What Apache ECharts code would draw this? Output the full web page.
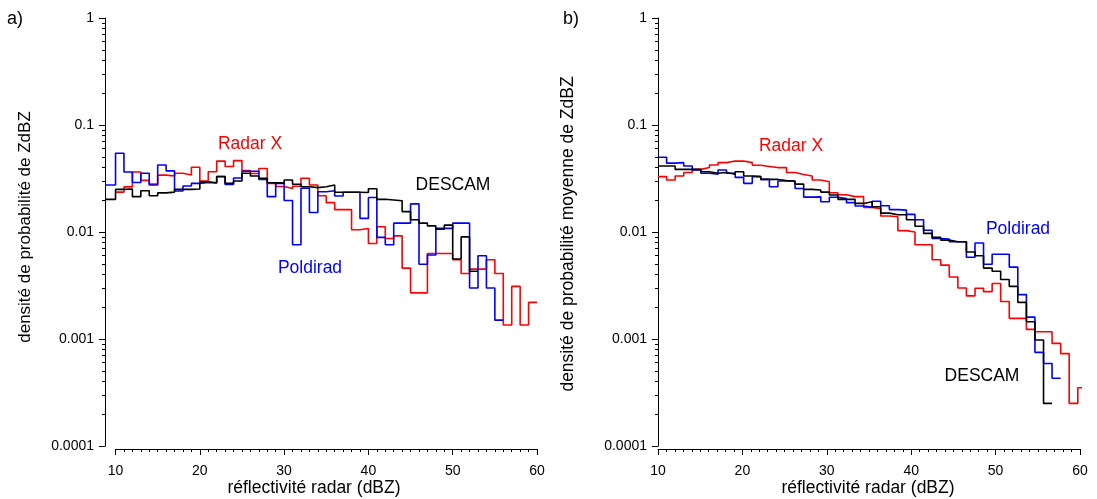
<!DOCTYPE html>
<html><head><meta charset="utf-8">
<script src="https://cdn.jsdelivr.net/npm/echarts@6/dist/echarts.min.js"></script>
<style>html,body{margin:0;padding:0;background:#fff}#c{width:1097px;height:499px}</style>
</head><body><div id="c"></div>
<script>
// ---- Panel a) : bin edges (dBZ) and probability densities per bin ----
const leftEdges = [8.75,10,11,12,13,14,15,16,17,18,19,20,21,22,23,24,25,26,27,28,29,30,31,32,33,34,35,36,37,38,39,40,41,42,43,44,45,46,47,48,49,50,51,52,53,54,55,56,57,58,59,60];
const descamA = [0.0202,0.025,0.0252,0.0214,0.0243,0.0218,0.0232,0.0236,0.025,0.025,0.0252,0.0294,0.0289,0.033,0.0285,0.030,0.0354,0.0334,0.0318,0.0289,0.0286,0.0306,0.0279,0.0265,0.026,0.0265,0.0275,0.0235,0.0235,0.0235,0.0234,0.0254,0.0202,0.0199,0.0196,0.0155,0.013,0.0121,0.0114,0.0106,0.0116,0.0056,0.009,0.0043,null,null,null,null,null,null,null];
const poldiradA = [0.0275,0.0544,0.0364,0.029,0.0354,0.0275,0.0423,0.0373,0.0242,0.0269,0.0285,0.029,0.0287,0.0329,0.0278,0.032,0.037,0.037,0.031,0.0214,0.0285,0.0197,0.0076,0.0256,0.0152,0.0238,0.0243,0.0217,0.0235,0.0235,0.0134,0.021,0.0089,0.0076,0.0121,0.0121,0.0183,0.005,0.0061,0.0108,0.0108,0.0121,0.0121,0.003,0.006,0.003,0.0015,null,null,null,null];
const radarXA = [null,0.0236,0.0264,0.0364,0.0304,0.028,0.034,0.0334,0.0354,0.0341,0.0403,0.030,0.0366,0.046,0.041,0.0465,0.0375,0.0352,0.0392,0.0285,0.0266,0.0255,0.0268,0.0318,0.0275,0.0218,0.0188,0.0162,0.0162,0.0105,0.0108,0.0078,0.0112,0.0087,0.0092,0.0046,0.0027,0.0027,0.0063,0.0063,0.0063,0.0055,0.0041,0.0045,0.0045,0.0055,0.0041,0.00135,0.0031,0.00135,0.0022];

// ---- Panel b) ----
const rightEdges = [10.00,11.02,12.03,13.05,14.06,15.08,16.09,17.11,18.12,19.14,20.15,21.17,22.18,23.20,24.21,25.23,26.24,27.26,28.27,29.29,30.30,31.32,32.33,33.35,34.36,35.38,36.39,37.41,38.42,39.44,40.45,41.47,42.48,43.50,44.51,45.53,46.54,47.56,48.57,49.59,50.60,51.62,52.63,53.65,54.66,55.68,56.69,57.71,58.72,59.74,60.75];
const radarXB = [0.0329,0.0306,0.0334,0.036,0.0385,0.040,0.0423,0.0445,0.046,0.046,0.0445,0.042,0.041,0.040,0.040,0.036,0.0345,0.0334,0.0306,0.0295,0.0233,0.0223,0.0214,0.0214,0.017,0.0165,0.0141,0.0139,0.0103,0.0100,0.0076,0.0076,0.0055,0.0049,0.0038,0.0030,0.00253,0.00298,0.00277,0.0033,0.00224,0.00156,0.00156,0.00123,0.00117,0.00117,0.00091,0.00073,0.00025,0.00035];
const descamB = [0.0414,0.0414,0.0385,0.0385,0.0385,0.0366,0.0354,0.036,0.0346,0.0366,0.0334,0.0329,0.031,0.031,0.0302,0.0298,0.028,0.025,0.0247,0.0236,0.0222,0.0202,0.0202,0.0185,0.0192,0.0172,0.015,0.0145,0.0145,0.013,0.0113,0.0097,0.0089,0.0084,0.0081,0.0081,0.0065,0.006,0.0046,0.0043,0.0036,0.0031,0.0022,0.00145,0.00098,0.00025,null,null,null,null];
const poldiradB = [0.0499,0.044,0.0445,0.0414,0.038,0.0354,0.0346,0.038,0.0354,0.0324,0.0285,0.0329,0.031,0.0265,0.030,0.030,0.0255,0.0212,0.0213,0.0192,0.0211,0.0205,0.0188,0.0175,0.017,0.0194,0.0176,0.0162,0.016,0.0146,0.013,0.0104,0.0087,0.0086,0.0081,0.0081,0.0058,0.0079,0.005,0.0062,0.0062,0.0047,0.0026,0.0016,0.00075,0.00059,0.00043,null,null,null];

const xTickLabels = [10,20,30,40,50,60];
const yTickLabels = ['1','0.1','0.01','0.001','0.0001'];

function stepData(edges, vals){
  const out=[];
  for(let i=0;i<vals.length;i++){
    if(vals[i]==null) continue;
    out.push([edges[i], vals[i]]);
    if(i===vals.length-1 || vals[i+1]==null) out.push([edges[i+1], vals[i]]);
  }
  return out;
}
const FONT = "'Liberation Sans', Arial, sans-serif";
const RED='#ff0000', BLUE='#0000ff', BLACK='#000000';

function logAxis(grid){
  return {type:'log', logBase:10, min:0.0001, max:1, gridIndex:grid,
    axisLine:{show:true, onZero:false, lineStyle:{color:'#000', width:1}},
    axisTick:{show:true, inside:false, length:6, lineStyle:{color:'#000'}},
    minorTick:{show:true, splitNumber:9, length:3, lineStyle:{color:'#000'}},
    splitLine:{show:false}, minorSplitLine:{show:false},
    axisLabel:{color:'#000', fontSize:14, fontFamily:FONT, margin:11,
      formatter:v=>{const s=Number(Number(v).toPrecision(6)).toString(); return yTickLabels.indexOf(s)>=0?s:'';}}
  };
}
function dispXAxis(grid){
  return {type:'value', gridIndex:grid, min:10, max:60, interval:10, offset:3,
    axisLine:{show:true, onZero:false, lineStyle:{color:'#000', width:1}},
    axisTick:{show:true, inside:false, length:6, lineStyle:{color:'#000'}},
    minorTick:{show:true, splitNumber:10, length:3, lineStyle:{color:'#000'}},
    splitLine:{show:false},
    axisLabel:{color:'#000', fontSize:14, fontFamily:FONT, margin:15,
      formatter:v=>xTickLabels.indexOf(Math.round(v))>=0?String(Math.round(v)):''}
  };
}
function line(data, color, xi, yi){
  return {type:'line', step:'end', xAxisIndex:xi, yAxisIndex:yi, data:data, symbol:'none',
    clip:false, animation:false, lineStyle:{color:color, width:1.6}, itemStyle:{color:color}};
}
function txt(t, x, y, color, size, rot){
  return {type:'text', x:x, y:y, rotation:rot||0, silent:true,
    style:{text:t, fill:color, font:size+'px '+FONT, align:'center', verticalAlign:'middle'}};
}

const chart = echarts.init(document.getElementById('c'), null, {renderer:'canvas'});
chart.setOption({
  backgroundColor:'#fff',
  animation:false,
  grid:[
    {left:105, top:18, width:432, height:428},
    {left:115.5, top:18, width:421.5, height:428},
    {left:658, top:18, width:422, height:428}
  ],
  xAxis:[
    {type:'value', gridIndex:0, min:8.75, max:60, show:false},
    dispXAxis(1),
    dispXAxis(2)
  ],
  yAxis:[
    logAxis(0),
    {type:'value', gridIndex:1, min:0, max:1, show:false},
    logAxis(2)
  ],
  series:[
    line(stepData(leftEdges, radarXA), RED, 0, 0),
    line(stepData(leftEdges, poldiradA), BLUE, 0, 0),
    line(stepData(leftEdges, descamA), BLACK, 0, 0),
    line(stepData(rightEdges, radarXB), RED, 2, 2),
    line(stepData(rightEdges, poldiradB), BLUE, 2, 2),
    line(stepData(rightEdges, descamB), BLACK, 2, 2)
  ],
  graphic:[
    txt('a)', 15, 19, '#000', 18),
    txt('b)', 571, 19, '#000', 18),
    txt('densité de probabilité de ZdBZ', 25, 227, '#000', 17, Math.PI/2),
    txt('densité de probabilité moyenne de ZdBZ', 568, 234, '#000', 17.5, Math.PI/2),
    txt('réflectivité radar (dBZ)', 314, 488, '#000', 17.5),
    txt('réflectivité radar (dBZ)', 868, 488, '#000', 17.5),
    txt('Radar X', 250, 144, RED, 17.5),
    txt('Poldirad', 310, 268, BLUE, 17.5),
    txt('DESCAM', 453, 185, BLACK, 17.5),
    txt('Radar X', 791, 146, RED, 17.5),
    txt('Poldirad', 1018, 229, BLUE, 17.5),
    txt('DESCAM', 982, 376, BLACK, 17.5)
  ]
});
</script></body></html>
